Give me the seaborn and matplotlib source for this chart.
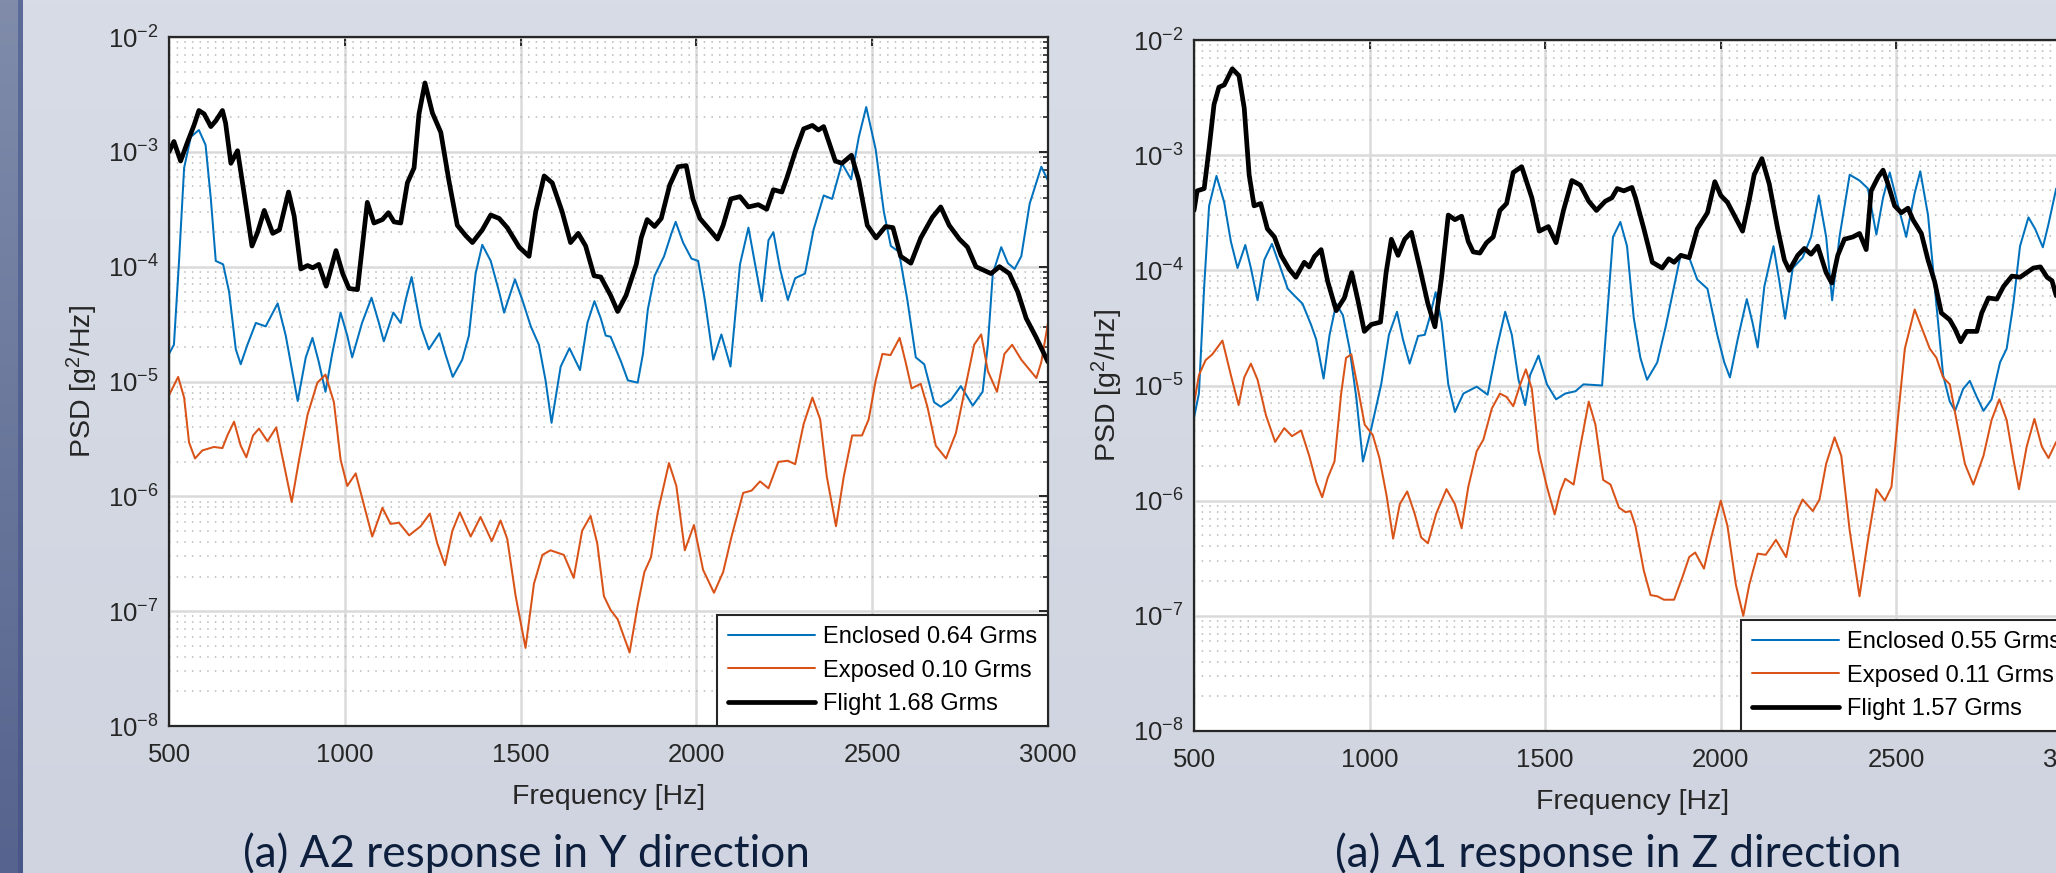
import numpy as np
import matplotlib
matplotlib.use("Agg")
import matplotlib.pyplot as plt
import seaborn as sns
from matplotlib.ticker import LogLocator, NullLocator, NullFormatter, FuncFormatter

# ---------------- data ----------------
# Left panel: A2 response in Y direction  (PSD given as log10 values)
a2_flight_hz = [500,514,533,552,571,585,600,619,633,652,661,676,695,714,736,752,771,795,814,840,856,875,894,909,926,947,975,994,1012,1036,1064,1083,1107,1124,1140,1159,1178,1197,1211,1228,1249,1273,1296,1320,1344,1363,1391,1415,1439,1462,1496,1524,1543,1567,1590,1618,1642,1664,1685,1709,1728,1756,1776,1800,1829,1843,1860,1881,1900,1924,1948,1971,1990,2010,2038,2060,2076,2098,2124,2148,2176,2200,2219,2243,2257,2281,2305,2330,2347,2362,2395,2414,2441,2462,2486,2511,2538,2559,2581,2610,2638,2671,2695,2719,2748,2771,2795,2838,2862,2890,2914,2938,2967,3000]
a2_flight_log = [-3.00,-2.91,-3.08,-2.92,-2.77,-2.64,-2.67,-2.78,-2.73,-2.64,-2.75,-3.10,-2.99,-3.37,-3.82,-3.70,-3.51,-3.71,-3.68,-3.35,-3.56,-4.02,-3.99,-4.01,-3.98,-4.17,-3.86,-4.06,-4.19,-4.20,-3.44,-3.62,-3.59,-3.53,-3.61,-3.62,-3.27,-3.14,-2.67,-2.40,-2.66,-2.83,-3.25,-3.64,-3.73,-3.79,-3.68,-3.55,-3.58,-3.66,-3.83,-3.91,-3.52,-3.21,-3.27,-3.52,-3.79,-3.71,-3.82,-4.08,-4.09,-4.25,-4.39,-4.25,-3.98,-3.75,-3.59,-3.65,-3.58,-3.29,-3.13,-3.12,-3.41,-3.58,-3.68,-3.76,-3.64,-3.41,-3.39,-3.48,-3.46,-3.50,-3.33,-3.35,-3.23,-3.00,-2.80,-2.77,-2.81,-2.78,-3.08,-3.10,-3.03,-3.25,-3.64,-3.75,-3.65,-3.66,-3.91,-3.97,-3.75,-3.57,-3.48,-3.64,-3.76,-3.83,-4.00,-4.06,-4.00,-4.06,-4.22,-4.45,-4.62,-4.83]

a2_enclosed_hz = [500,514,528,543,562,585,604,619,633,654,671,690,704,723,747,775,809,832,866,889,908,926,945,964,988,1007,1021,1049,1076,1097,1111,1138,1159,1173,1190,1216,1239,1269,1286,1307,1334,1353,1372,1391,1415,1439,1453,1484,1505,1529,1552,1571,1588,1614,1639,1669,1690,1710,1728,1742,1756,1786,1805,1833,1848,1862,1881,1908,1929,1941,1962,1986,2005,2024,2048,2071,2097,2124,2148,2167,2186,2205,2219,2238,2260,2281,2309,2333,2362,2386,2414,2440,2462,2483,2510,2533,2553,2576,2600,2624,2648,2676,2695,2724,2752,2786,2814,2829,2843,2867,2886,2905,2924,2948,2981,3000]
a2_enclosed_log = [-4.76,-4.68,-3.98,-3.14,-2.87,-2.81,-2.94,-3.41,-3.95,-3.98,-4.22,-4.72,-4.85,-4.68,-4.49,-4.52,-4.32,-4.60,-5.17,-4.79,-4.62,-4.83,-5.09,-4.76,-4.40,-4.60,-4.79,-4.49,-4.27,-4.49,-4.65,-4.40,-4.49,-4.29,-4.09,-4.52,-4.72,-4.58,-4.76,-4.96,-4.81,-4.60,-4.06,-3.81,-3.95,-4.22,-4.40,-4.11,-4.29,-4.52,-4.68,-4.99,-5.36,-4.87,-4.71,-4.90,-4.49,-4.30,-4.45,-4.60,-4.61,-4.83,-4.99,-5.01,-4.76,-4.37,-4.08,-3.91,-3.71,-3.61,-3.79,-3.93,-3.95,-4.29,-4.81,-4.59,-4.87,-3.98,-3.66,-3.98,-4.30,-3.77,-3.70,-4.02,-4.29,-4.10,-4.06,-3.68,-3.38,-3.41,-3.10,-3.24,-2.87,-2.61,-2.98,-3.52,-3.82,-3.87,-4.29,-4.79,-4.85,-5.18,-5.22,-5.16,-5.04,-5.21,-5.09,-4.68,-4.06,-3.83,-3.97,-4.02,-3.91,-3.45,-3.13,-3.25]

a2_exposed_hz = [500,526,543,557,574,595,628,652,666,685,704,720,739,756,780,805,824,849,870,894,922,945,969,988,1007,1031,1054,1078,1107,1130,1154,1183,1216,1242,1263,1285,1306,1327,1358,1386,1418,1443,1462,1486,1514,1538,1562,1585,1623,1651,1675,1699,1718,1737,1756,1776,1810,1833,1852,1871,1890,1922,1943,1967,1993,2019,2050,2076,2100,2133,2157,2181,2205,2233,2260,2281,2305,2330,2352,2371,2397,2419,2443,2471,2490,2510,2529,2552,2578,2595,2612,2638,2657,2681,2710,2738,2767,2790,2810,2829,2855,2876,2898,2924,2967,2981,3000]
a2_exposed_log = [-5.12,-4.96,-5.14,-5.53,-5.67,-5.60,-5.57,-5.58,-5.47,-5.35,-5.56,-5.66,-5.47,-5.41,-5.52,-5.40,-5.68,-6.05,-5.68,-5.29,-5.01,-4.94,-5.18,-5.68,-5.91,-5.80,-6.07,-6.35,-6.10,-6.24,-6.23,-6.34,-6.26,-6.15,-6.41,-6.60,-6.30,-6.14,-6.35,-6.18,-6.39,-6.21,-6.37,-6.87,-7.32,-6.76,-6.51,-6.47,-6.51,-6.71,-6.30,-6.17,-6.41,-6.87,-6.99,-7.07,-7.36,-6.95,-6.66,-6.53,-6.14,-5.71,-5.91,-6.47,-6.25,-6.64,-6.84,-6.66,-6.35,-5.97,-5.95,-5.87,-5.93,-5.70,-5.69,-5.72,-5.37,-5.14,-5.33,-5.83,-6.26,-5.83,-5.47,-5.47,-5.33,-4.99,-4.76,-4.77,-4.62,-4.83,-5.06,-5.02,-5.22,-5.56,-5.67,-5.45,-5.02,-4.68,-4.59,-4.91,-5.09,-4.76,-4.68,-4.81,-4.97,-4.83,-4.49]

# Right panel: A1 response in Z direction
a1_flight_hz = [500,509,529,543,557,571,586,609,628,643,657,671,690,709,729,748,771,790,814,828,843,862,881,905,928,949,966,985,1005,1031,1047,1062,1081,1100,1119,1143,1166,1186,1205,1224,1243,1262,1281,1295,1314,1333,1352,1371,1390,1409,1433,1462,1483,1509,1531,1552,1576,1600,1624,1646,1671,1690,1705,1724,1747,1757,1781,1805,1833,1852,1867,1886,1910,1933,1962,1983,2000,2019,2038,2062,2081,2095,2117,2138,2162,2181,2195,2219,2238,2257,2276,2300,2316,2333,2352,2376,2395,2414,2428,2448,2462,2476,2495,2514,2533,2547,2571,2590,2609,2628,2652,2667,2683,2700,2729,2743,2762,2786,2805,2829,2852,2871,2890,2910,2929,2943,2955]
a1_flight_log = [-3.48,-3.31,-3.29,-2.94,-2.56,-2.41,-2.39,-2.25,-2.31,-2.59,-3.17,-3.44,-3.42,-3.64,-3.71,-3.87,-3.99,-4.06,-3.93,-3.97,-3.88,-3.82,-4.10,-4.35,-4.24,-4.02,-4.25,-4.53,-4.47,-4.45,-4.02,-3.73,-3.87,-3.73,-3.67,-3.98,-4.29,-4.49,-4.06,-3.52,-3.56,-3.53,-3.75,-3.84,-3.85,-3.76,-3.71,-3.48,-3.42,-3.15,-3.10,-3.37,-3.66,-3.62,-3.76,-3.48,-3.22,-3.26,-3.40,-3.48,-3.40,-3.37,-3.29,-3.31,-3.28,-3.37,-3.64,-3.93,-3.98,-3.90,-3.93,-3.87,-3.89,-3.64,-3.50,-3.23,-3.35,-3.41,-3.52,-3.66,-3.39,-3.17,-3.03,-3.25,-3.64,-3.91,-4.00,-3.87,-3.81,-3.86,-3.79,-4.02,-4.11,-3.87,-3.73,-3.71,-3.68,-3.82,-3.31,-3.19,-3.13,-3.25,-3.44,-3.50,-3.46,-3.56,-3.68,-3.91,-4.10,-4.37,-4.43,-4.51,-4.62,-4.53,-4.53,-4.37,-4.24,-4.25,-4.14,-4.05,-4.06,-4.02,-3.98,-3.97,-4.06,-4.09,-4.22]

a1_enclosed_hz = [500,514,529,543,564,586,605,624,646,662,681,700,722,743,767,786,809,833,848,869,886,905,924,943,962,981,1005,1033,1055,1078,1095,1114,1138,1157,1171,1188,1205,1224,1243,1267,1305,1336,1362,1386,1405,1424,1443,1457,1481,1505,1531,1557,1586,1609,1662,1676,1693,1714,1733,1752,1771,1790,1819,1843,1867,1886,1910,1933,1962,1990,2010,2026,2048,2074,2090,2105,2124,2150,2167,2183,2205,2233,2257,2279,2300,2317,2338,2367,2395,2419,2443,2462,2481,2505,2528,2552,2568,2590,2609,2633,2652,2667,2690,2709,2729,2748,2771,2795,2814,2833,2852,2876,2895,2917,2933,2955]
a1_enclosed_log = [-5.28,-5.07,-4.14,-3.44,-3.18,-3.41,-3.75,-3.98,-3.78,-3.98,-4.26,-3.91,-3.77,-3.95,-4.16,-4.22,-4.29,-4.47,-4.60,-4.94,-4.56,-4.29,-4.39,-4.68,-5.10,-5.66,-5.37,-4.99,-4.56,-4.36,-4.60,-4.81,-4.57,-4.56,-4.41,-4.19,-4.45,-4.99,-5.23,-5.07,-5.01,-5.08,-4.68,-4.36,-4.56,-4.95,-5.17,-4.91,-4.74,-4.99,-5.12,-5.07,-5.05,-4.99,-5.00,-4.41,-3.71,-3.58,-3.79,-4.41,-4.76,-4.95,-4.80,-4.49,-4.14,-3.86,-3.89,-4.08,-4.16,-4.56,-4.80,-4.93,-4.60,-4.25,-4.45,-4.67,-4.14,-3.79,-4.10,-4.42,-3.98,-3.89,-3.71,-3.35,-3.71,-4.26,-3.71,-3.17,-3.22,-3.29,-3.69,-3.37,-3.15,-3.44,-3.71,-3.33,-3.14,-3.52,-4.14,-4.91,-5.14,-5.22,-5.03,-4.96,-5.10,-5.22,-5.12,-4.80,-4.68,-4.29,-3.79,-3.54,-3.64,-3.80,-3.60,-3.29]

a1_exposed_hz = [500,514,533,552,581,605,627,643,662,681,705,731,757,779,805,828,848,865,881,900,919,933,948,967,986,1009,1028,1048,1067,1086,1107,1128,1147,1166,1190,1219,1243,1262,1281,1305,1324,1348,1371,1390,1409,1429,1445,1462,1481,1505,1527,1543,1557,1581,1600,1624,1643,1665,1686,1710,1729,1743,1757,1781,1800,1819,1838,1867,1890,1910,1927,1952,1971,2000,2019,2043,2064,2081,2105,2128,2157,2186,2209,2233,2262,2281,2300,2324,2343,2367,2395,2419,2443,2467,2486,2505,2524,2552,2576,2595,2614,2633,2652,2671,2695,2719,2748,2771,2793,2814,2833,2849,2871,2893,2914,2933,2955]
a1_exposed_log = [-5.16,-4.91,-4.78,-4.73,-4.61,-4.91,-5.17,-4.93,-4.81,-4.95,-5.26,-5.49,-5.37,-5.44,-5.39,-5.61,-5.84,-5.97,-5.80,-5.66,-5.07,-4.76,-4.73,-5.03,-5.34,-5.43,-5.63,-5.95,-6.33,-6.03,-5.92,-6.11,-6.32,-6.37,-6.11,-5.90,-6.03,-6.24,-5.88,-5.57,-5.47,-5.20,-5.07,-5.10,-5.18,-4.99,-4.86,-5.03,-5.57,-5.88,-6.12,-5.92,-5.81,-5.86,-5.53,-5.14,-5.34,-5.82,-5.86,-6.06,-6.10,-6.09,-6.22,-6.61,-6.82,-6.83,-6.86,-6.86,-6.67,-6.49,-6.45,-6.59,-6.34,-6.00,-6.22,-6.73,-7.00,-6.73,-6.46,-6.47,-6.34,-6.49,-6.15,-5.99,-6.09,-5.99,-5.68,-5.45,-5.61,-6.26,-6.83,-6.34,-5.90,-6.00,-5.88,-5.26,-4.68,-4.34,-4.53,-4.68,-4.76,-4.93,-4.99,-5.30,-5.68,-5.86,-5.61,-5.30,-5.12,-5.30,-5.64,-5.90,-5.53,-5.29,-5.53,-5.63,-5.49]

a2_labels = ["Enclosed 0.64 Grms", "Exposed 0.10 Grms", "Flight 1.68 Grms"]
a1_labels = ["Enclosed 0.55 Grms", "Exposed 0.11 Grms", "Flight 1.57 Grms"]
panel_titles = ["(a) A2 response in Y direction", "(a) A1 response in Z direction"]
x_ticks = [500, 1000, 1500, 2000, 2500, 3000]
x_label = "Frequency [Hz]"
y_label = "PSD [g$^2$/Hz]"

# ---------------- style ----------------
BLUE = "#0072BD"
ORANGE = "#D95319"
BLACK = "#000000"
AXC = "#262626"
BG_TOP = np.array([0xd7, 0xdc, 0xe6]) / 255
BG_BOT = np.array([0xcf, 0xd4, 0xe0]) / 255

sns.set_style("white")
plt.rcParams.update({
    "mathtext.fontset": "custom",
    "mathtext.rm": "Liberation Sans",
    "mathtext.it": "Liberation Sans:italic",
    "mathtext.bf": "Liberation Sans:bold",
    "mathtext.default": "regular",
    "axes.unicode_minus": True,
})
plt.rcParams["font.family"] = ["Liberation Sans", "DejaVu Sans"]

W, H = 2056, 873
fig = plt.figure(figsize=(W / 100, H / 100), dpi=100)

# background gradient
bg = fig.add_axes([0, 0, 1, 1], zorder=-10)
grad = np.linspace(0, 1, 256)[:, None, None]
bg_img = BG_TOP[None, None, :] * (1 - grad) + BG_BOT[None, None, :] * grad
bg.imshow(bg_img, extent=[0, 1, 0, 1], aspect="auto", origin="upper")
bg.set_xlim(0, 1); bg.set_ylim(0, 1)
bg.axis("off")

# left decorative stripe
st = fig.add_axes([0, 0, 23 / W, 1], zorder=-5)
c1t, c1b = np.array([0x80, 0x8c, 0xaa]) / 255, np.array([0x55, 0x63, 0x8e]) / 255
c2t, c2b = np.array([0x5c, 0x6b, 0x97]) / 255, np.array([0x48, 0x57, 0x88]) / 255
band1 = c1t[None, None, :] * (1 - grad) + c1b[None, None, :] * grad
band2 = c2t[None, None, :] * (1 - grad) + c2b[None, None, :] * grad
st.imshow(band1, extent=[0, 18, 0, 1], aspect="auto", origin="upper")
st.imshow(band2, extent=[18, 23, 0, 1], aspect="auto", origin="upper")
st.set_xlim(0, 23); st.set_ylim(0, 1)
st.axis("off")


def exp_fmt(v, pos):
    if v <= 0:
        return ""
    return r"$10^{%d}$" % int(round(np.log10(v)))


def draw_panel(ax, series, labels):
    for (hz, lg, color, lw), lab in zip(series, labels):
        n = min(len(hz), len(lg))
        sns.lineplot(x=np.asarray(hz[:n], float), y=np.power(10.0, np.asarray(lg[:n], float)),
                     ax=ax, color=color, linewidth=lw, label=lab,
                     estimator=None, sort=False, solid_joinstyle="round")
    ax.set_yscale("log")
    ax.set_xlim(500, 3000)
    ax.set_ylim(1e-8, 1e-2)
    ax.set_xticks(x_ticks)
    ax.set_xticklabels([str(t) for t in x_ticks])
    ax.xaxis.set_minor_locator(NullLocator())
    ax.yaxis.set_major_locator(LogLocator(base=10, numticks=20))
    ax.yaxis.set_minor_locator(LogLocator(base=10, subs=np.arange(2, 10), numticks=20))
    ax.yaxis.set_major_formatter(FuncFormatter(exp_fmt))
    ax.yaxis.set_minor_formatter(NullFormatter())
    ax.set_facecolor("white")
    ax.set_axisbelow(True)
    ax.grid(True, which="major", axis="both", color="#dadada", linewidth=1.8, linestyle="-")
    ax.grid(True, which="minor", axis="y", color="#b8b8b8", linewidth=1.1, linestyle=(0, (1, 4)))
    ax.tick_params(which="both", direction="in", top=True, right=True, colors=AXC)
    ax.tick_params(which="major", length=6.5, width=1.4, labelsize=18.5)
    ax.tick_params(which="minor", length=3.6, width=1.2)
    ax.tick_params(axis="x", which="major", pad=12)
    ax.tick_params(axis="y", which="major", pad=7.5)
    for s in ax.spines.values():
        s.set_visible(True)
        s.set_color(AXC)
        s.set_linewidth(1.6)
    ax.set_xlabel(x_label, fontsize=20.5, color=AXC, va="center")
    ax.set_ylabel(y_label, fontsize=20.5, color=AXC, va="center")
    ax.xaxis.set_label_coords(0.5, -71 / 689)
    ax.yaxis.set_label_coords(-87 / 879, 0.5)
    leg = ax.legend(loc="lower right", borderaxespad=0, fontsize=17, frameon=True,
                    fancybox=False, edgecolor=AXC, framealpha=1, facecolor="white",
                    handlelength=3.7, handletextpad=0.35, labelspacing=0.5, borderpad=0.45)
    leg.get_frame().set_linewidth(1.5)
    for t in leg.get_texts():
        t.set_color("black")


ax1 = fig.add_axes([169 / W, (H - 726) / H, 879 / W, 689 / H])
draw_panel(ax1, [
    (a2_enclosed_hz, a2_enclosed_log, BLUE, 1.45),
    (a2_exposed_hz, a2_exposed_log, ORANGE, 1.45),
    (a2_flight_hz, a2_flight_log, BLACK, 3.4),
], a2_labels)

ax2 = fig.add_axes([1194 / W, (H - 731) / H, 878 / W, 691 / H])
draw_panel(ax2, [
    (a1_enclosed_hz, a1_enclosed_log, BLUE, 1.45),
    (a1_exposed_hz, a1_exposed_log, ORANGE, 1.45),
    (a1_flight_hz, a1_flight_log, BLACK, 3.4),
], a1_labels)

# captions under the panels
TITLE_C = "#0d1f3d"
caps = []
for cx, txt in zip([526 / W, 1618 / W], panel_titles):
    caps.append(fig.text(cx, (H - 867) / H, txt, ha="center", va="baseline",
                         fontsize=32, color=TITLE_C, family=["Lato", "DejaVu Sans"]))
renderer = fig.canvas.get_renderer()
for t in caps:
    wpx = t.get_window_extent(renderer).width
    if wpx > 0:
        t.set_fontsize(t.get_fontsize() * 567.0 / wpx)

fig.savefig("out.png", dpi=100, facecolor=fig.get_facecolor())
